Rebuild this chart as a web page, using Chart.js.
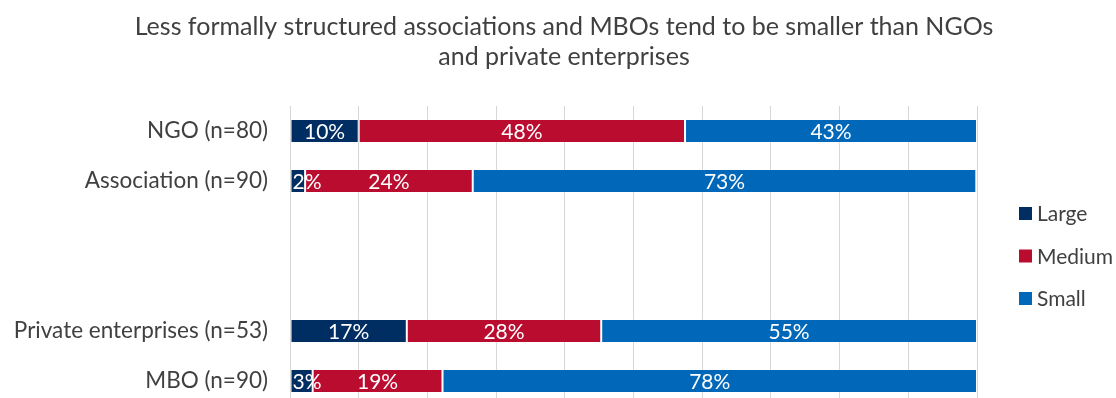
<!DOCTYPE html>
<html>
<head>
<meta charset="utf-8">
<title>Organisation size by type</title>
<script src="https://cdn.jsdelivr.net/npm/chart.js@4.4.1/dist/chart.umd.min.js"></script>
<style>
html, body { margin: 0; padding: 0; background: #fff; overflow: hidden; }
#wrap { position: relative; width: 1116px; height: 406px; }
</style>
</head>
<body>
<div id="wrap"><canvas id="sizeChart"></canvas></div>
<script>
// share of organisations by size, in percent (two empty rows keep the gap)
const categories = ['NGO (n=80)', 'Association (n=90)', '', '', 'Private enterprises (n=53)', 'MBO (n=90)'];
const largeShare = [10.0, 2.2, null, null, 17.0, 3.3];
const mediumShare = [47.5, 24.4, null, null, 28.3, 18.9];
const smallShare = [42.5, 73.3, null, null, 54.7, 77.8];
const seriesNames = ['Large', 'Medium', 'Small'];
const seriesColors = ['#002d62', '#ba0c2f', '#0067b9'];
const titleLines = ['Less formally structured associations and MBOs tend to be smaller than NGOs', 'and private enterprises'];

const FONT = 'Lato, "DejaVu Sans", sans-serif';
const TEXT = '#404040';

// white percentage inside each segment, kept inside the bar's left edge
const barLabels = {
  id: 'barLabels',
  afterDatasetsDraw(chart) {
    const ctx = chart.ctx;
    ctx.save();
    ctx.font = '21px ' + FONT;
    ctx.fillStyle = '#fff';
    ctx.textAlign = 'center';
    ctx.textBaseline = 'middle';
    chart.data.datasets.forEach((ds, i) => {
      chart.getDatasetMeta(i).data.forEach((bar, j) => {
        const v = ds.data[j];
        if (v == null) return;
        const text = Math.round(v) + '%';
        const w = ctx.measureText(text).width;
        const left = Math.min(bar.x, bar.base);
        const x = Math.max((bar.x + bar.base) / 2, left + 2 + w / 2);
        ctx.fillText(text, x, bar.y + 1);
      });
    });
    ctx.restore();
  }
};

// legend stacked on the right, centred on the plot area
const sideLegend = {
  id: 'sideLegend',
  afterDraw(chart) {
    const { ctx, chartArea } = chart;
    const mid = (chartArea.top + chartArea.bottom) / 2;
    ctx.save();
    ctx.font = '21px ' + FONT;
    ctx.textAlign = 'left';
    ctx.textBaseline = 'middle';
    chart.data.datasets.forEach((ds, i) => {
      const y = mid + (i - 1) * 42.5;
      ctx.fillStyle = ds.backgroundColor;
      ctx.fillRect(chartArea.right + 42, y - 6.5, 13, 13);
      ctx.fillStyle = TEXT;
      ctx.fillText(ds.label, chartArea.right + 60, y + 1);
    });
    ctx.restore();
  }
};

const seriesData = [largeShare, mediumShare, smallShare];

new Chart(document.getElementById('sizeChart'), {
  type: 'bar',
  data: {
    labels: categories,
    datasets: seriesNames.map((name, i) => ({
      label: name,
      data: seriesData[i],
      backgroundColor: seriesColors[i],
      borderColor: 'rgba(255,255,255,0.25)',
      borderWidth: 1,
      borderSkipped: false,
      categoryPercentage: 1,
      barPercentage: 0.48
    }))
  },
  options: {
    indexAxis: 'y',
    responsive: true,
    maintainAspectRatio: false,
    animation: false,
    devicePixelRatio: 1,
    layout: { padding: { left: 12, right: 0, top: 0, bottom: 0 } },
    scales: {
      x: {
        stacked: true,
        min: 0,
        max: 100,
        ticks: { display: false, stepSize: 10 },
        grid: { color: '#d6d6d6', lineWidth: 1, drawTicks: false },
        border: { display: false },
        afterFit(s) { s.height = 0; }
      },
      y: {
        stacked: true,
        grid: { display: false, drawTicks: false },
        border: { display: true, color: '#d6d6d6' },
        ticks: { color: TEXT, padding: 22, font: { family: FONT, size: 22.5 } },
        afterFit(s) {
          s.width = 278;
          // rows run right to the top and bottom of the plot
          s.paddingTop = 0;
          s.paddingBottom = 0;
        }
      },
      legendSpace: {
        type: 'linear',
        axis: 'y',
        position: 'right',
        grid: { display: false },
        ticks: { display: false },
        border: { display: false },
        afterFit(s) { s.width = 139; }
      }
    },
    plugins: {
      legend: { display: false },
      tooltip: { enabled: false },
      title: {
        display: true,
        text: titleLines,
        color: TEXT,
        font: { family: FONT, size: 25, weight: 'normal', lineHeight: 1.19 },
        padding: { top: 12.5, bottom: 34 }
      }
    }
  },
  plugins: [barLabels, sideLegend]
});
</script>
</body>
</html>
